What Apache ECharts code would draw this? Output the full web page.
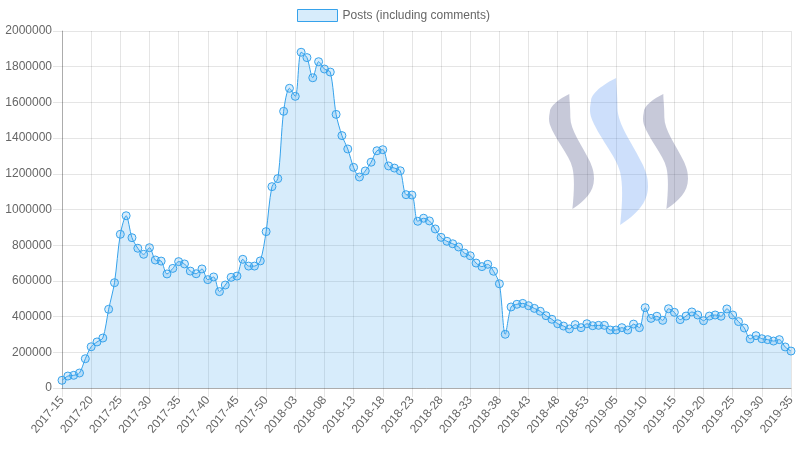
<!DOCTYPE html>
<html><head><meta charset="utf-8">
<script src="https://cdn.jsdelivr.net/npm/echarts@6/dist/echarts.min.js"></script>
<style>html,body{margin:0;padding:0;background:#fff}#c{width:798px;height:450px}</style>
</head><body><div id="c"></div>
<script>
// Week ranges shown on the category axis
const weekRanges = [[2017, 15, 52], [2018, 1, 53], [2019, 1, 35]];
const categories = [];
weekRanges.forEach(([y, a, b]) => { for (let w = a; w <= b; w++) categories.push(y + '-' + String(w).padStart(2, '0')); });

const seriesName = 'Posts (including comments)';
const posts = [
  43000, 67000, 71000, 84000, 164000, 231000, 258000, 280000, 441000, 590000,
  861000, 965000, 842000, 783000, 749000, 786000, 717000, 711000, 639000, 670000,
  708000, 695000, 655000, 640000, 667000, 607000, 622000, 540000, 577000, 620000,
  627000, 721000, 683000, 683000, 712000, 876000, 1128000, 1173000, 1550000, 1679000,
  1634000, 1881000, 1851000, 1738000, 1828000, 1787000, 1770000, 1533000, 1414000, 1339000,
  1236000, 1182000, 1216000, 1265000, 1329000, 1335000, 1244000, 1232000, 1217000, 1083000,
  1081000, 934000, 951000, 936000, 891000, 844000, 822000, 808000, 790000, 756000,
  741000, 700000, 680000, 693000, 654000, 584000, 301000, 454000, 469000, 474000,
  461000, 446000, 430000, 405000, 385000, 360000, 347000, 331000, 355000, 338000,
  360000, 349000, 351000, 351000, 325000, 325000, 338000, 325000, 358000, 338000,
  450000, 390000, 402000, 379000, 444000, 424000, 383000, 403000, 426000, 409000,
  377000, 403000, 409000, 402000, 443000, 409000, 372000, 336000, 275000, 293000,
  276000, 271000, 263000, 271000, 230000, 207000
];
const yTicks = { min: 0, max: 2000000, interval: 200000 };

const sPath = 'M20 0 C10 5 1 12 1 18 C0 23 0 26 1 30 C6 45 20 60 23 73 C25 82 25 95 23 114 C35 106 44 97 44 84 C44 76 42 72 40 67 C32 50 21 36 21 23 C21 12 20 5 20 0 Z';
const logoParts = [
  { x: 549, y: 94, w: 45, h: 115, fill: 'rgba(70,75,130,0.3)' },
  { x: 590, y: 78, w: 58, h: 147, fill: 'rgba(75,140,240,0.28)' },
  { x: 643, y: 94, w: 45, h: 115, fill: 'rgba(70,75,130,0.3)' }
];

const chart = echarts.init(document.getElementById('c'), null, { renderer: 'canvas' });
const font = 'Liberation Sans, Arial, Helvetica, sans-serif';
const legendItemStyle = { color: 'rgba(54,162,235,0.2)', borderColor: '#36a2eb', borderWidth: 1, opacity: 1 };
chart.setOption({
  animation: false,
  textStyle: { fontFamily: font },
  legend: {
    data: [{ name: seriesName, icon: 'rect', itemStyle: legendItemStyle }],
    left: 292, top: 4, icon: 'rect', itemWidth: 40, itemHeight: 12, itemGap: 10,
    textStyle: { color: '#666', fontSize: 12, fontFamily: font },
    itemStyle: legendItemStyle,
    lineStyle: { color: '#36a2eb', width: 1 }
  },
  grid: { left: 62, right: 7, top: 31, bottom: 62, containLabel: false, outerBoundsMode: 'none' },
  xAxis: {
    type: 'category', data: categories, boundaryGap: false,
    axisLine: { lineStyle: { color: 'rgba(0,0,0,0.25)' } },
    axisTick: { show: true, interval: 4, length: 9, lineStyle: { color: 'rgba(0,0,0,0.1)' } },
    axisLabel: { interval: 4, rotate: 50, margin: 10, color: '#666', fontSize: 12, fontFamily: font },
    splitLine: { show: true, interval: 4, lineStyle: { color: 'rgba(0,0,0,0.1)' } }
  },
  yAxis: {
    type: 'value', min: yTicks.min, max: yTicks.max, interval: yTicks.interval,
    axisLine: { show: true, lineStyle: { color: 'rgba(0,0,0,0.25)' } },
    axisTick: { show: true, length: 9, lineStyle: { color: 'rgba(0,0,0,0.1)' } },
    axisLabel: { margin: 10, color: '#666', fontSize: 12, fontFamily: font, formatter: v => String(v) },
    splitLine: { show: true, lineStyle: { color: 'rgba(0,0,0,0.1)' } }
  },
  series: [{
    name: 'logo', type: 'custom', coordinateSystem: 'none', silent: true, z: 0,
    data: [0],
    renderItem: function () {
      return {
        type: 'group',
        children: logoParts.map(p => ({
          type: 'path',
          shape: { pathData: sPath, layout: 'cover', x: p.x, y: p.y, width: p.w, height: p.h },
          style: { fill: p.fill }
        }))
      };
    }
  }, {
    name: seriesName, type: 'line', data: posts, smooth: 0.3,
    symbol: 'circle', symbolSize: 8, showAllSymbol: true,
    lineStyle: { color: '#36a2eb', width: 1 },
    itemStyle: { color: 'rgba(54,162,235,0.2)', borderColor: '#36a2eb', borderWidth: 1 },
    areaStyle: { color: 'rgba(54,162,235,0.2)', opacity: 1 }
  }]
});
</script></body></html>
